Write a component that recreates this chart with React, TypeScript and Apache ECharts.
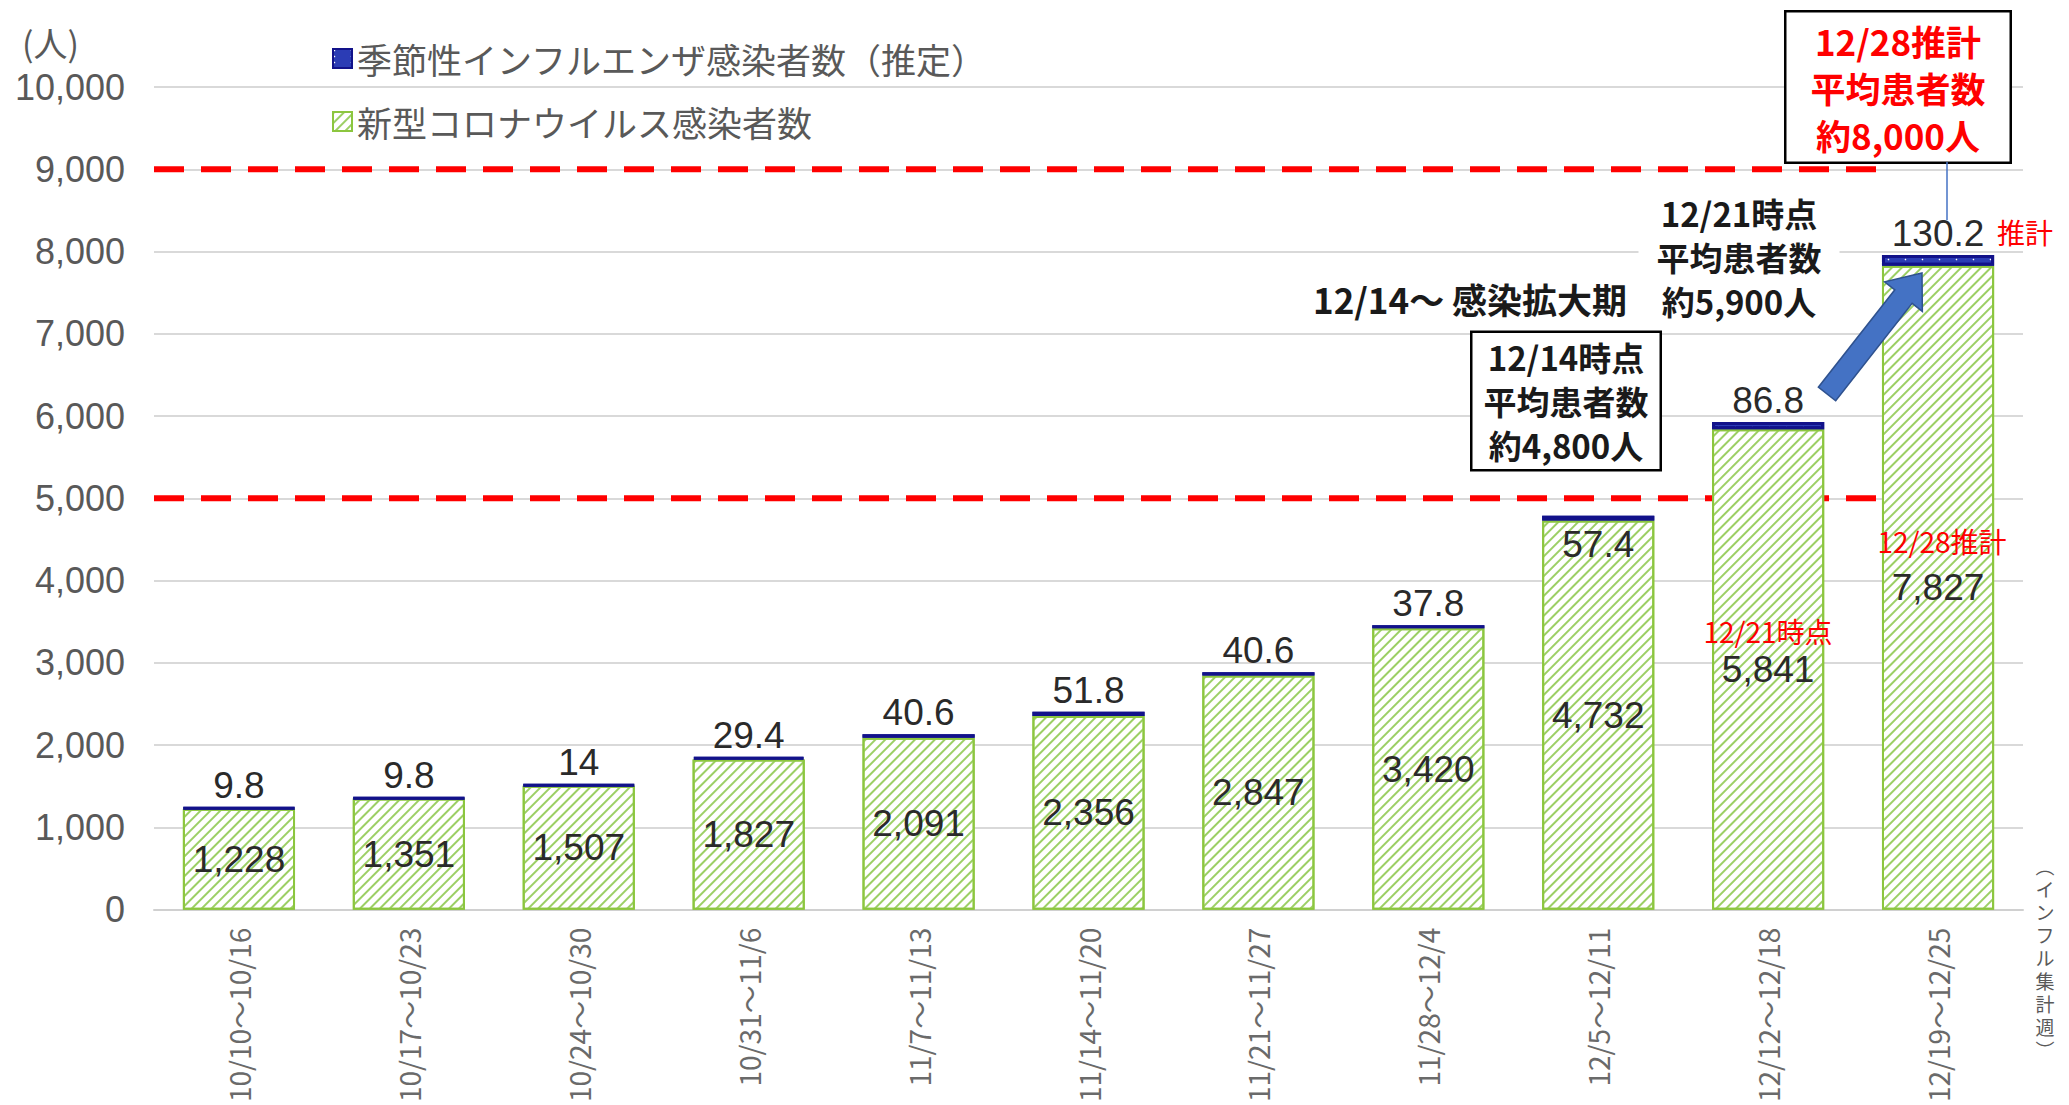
import React, { useEffect, useRef } from 'react';
import * as echarts from 'echarts';

const CATEGORIES = [
  '10/10～10/16', '10/17～10/23', '10/24～10/30', '10/31～11/6', '11/7～11/13',
  '11/14～11/20', '11/21～11/27', '11/28～12/4', '12/5～12/11', '12/12～12/18', '12/19～12/25',
];
const COVID = [1228, 1351, 1507, 1827, 2091, 2356, 2847, 3420, 4732, 5841, 7827];
const FLU = [9.8, 9.8, 14, 29.4, 40.6, 51.8, 40.6, 37.8, 57.4, 86.8, 130.2];
const Y_MIN = 0;
const Y_MAX = 10000;
const Y_INTERVAL = 1000;
const THRESHOLDS = [9000, 5000];
const FLU_NAME = '季節性インフルエンザ感染者数（推定）';
const COVID_NAME = '新型コロナウイルス感染者数';
const SIDE_NOTE = ['︵', 'イ', 'ン', 'フ', 'ル', '集', '計', '週', '︶'];
const FLU_LABEL_INSIDE_INDEX = 8;
const BAR_FRACTION = 0.66;

const JP = '"Noto Sans CJK JP", "Noto Sans", sans-serif';
const NUM = '"Liberation Sans", Arial, sans-serif';

function arrowPoints(tail: number[], tip: number[], shaftHalf: number, headHalf: number, headLen: number) {
  const dx = tip[0] - tail[0];
  const dy = tip[1] - tail[1];
  const len = Math.hypot(dx, dy);
  const ux = dx / len, uy = dy / len;
  const nx = -uy, ny = ux;
  const bx = tip[0] - ux * headLen, by = tip[1] - uy * headLen;
  return [
    [tail[0] + nx * shaftHalf, tail[1] + ny * shaftHalf],
    [bx + nx * shaftHalf, by + ny * shaftHalf],
    [bx + nx * headHalf, by + ny * headHalf],
    [tip[0], tip[1]],
    [bx - nx * headHalf, by - ny * headHalf],
    [bx - nx * shaftHalf, by - ny * shaftHalf],
    [tail[0] - nx * shaftHalf, tail[1] - ny * shaftHalf],
  ];
}

export default function App() {
  const ref = useRef<HTMLDivElement>(null);
  useEffect(() => {
    document.body.style.margin = '0';
    const chart = echarts.init(ref.current!, null, { renderer: 'svg' });
    const lineEnd = CATEGORIES.length - 1 + (1 - BAR_FRACTION) / 2 - 0.03;
    const fluData = FLU.map((v, i) =>
      i === FLU_LABEL_INSIDE_INDEX ? { value: v, label: { position: 'bottom', distance: 6 } } : v
    );
    const thresholdSeries = THRESHOLDS.map((t) => ({
      type: 'line',
      xAxisIndex: 1,
      yAxisIndex: 0,
      silent: true,
      symbol: 'none',
      data: [[0, t], [lineEnd, t]],
      lineStyle: { color: '#FF0000', width: 6, type: [30, 17] },
      z: 1,
    }));
    const sideStep = 23;
    const sideTop = 957 - ((SIDE_NOTE.length - 1) * sideStep) / 2;
    const sideTexts = SIDE_NOTE.map((ch, i) => ({
      type: 'text',
      z: 100,
      x: 2045,
      y: sideTop + i * sideStep,
      style: {
        text: ch,
        font: `19px ${JP}`,
        fill: '#595959',
        align: 'center',
        verticalAlign: 'middle',
        lineHeight: 20,
      },
    }));
    const option: any = {
      animation: false,
      backgroundColor: '#ffffff',
      grid: { left: 154, right: 46, top: 87, bottom: 193, containLabel: false },
      legend: {
        orient: 'vertical',
        left: 327,
        top: 36,
        icon: 'rect',
        itemWidth: 19,
        itemHeight: 19,
        itemGap: 28,
        data: [FLU_NAME, COVID_NAME],
        textStyle: { fontSize: 35, color: '#595959', fontFamily: JP },
      },
      xAxis: [
        {
          type: 'category',
          data: CATEGORIES,
          axisTick: { show: false },
          axisLine: { lineStyle: { color: '#D0D0D0', width: 2 } },
          axisLabel: { rotate: 90, margin: 18, fontSize: 28, color: '#6a6a6a', fontFamily: JP, interval: 0 },
        },
        { type: 'value', min: 0, max: CATEGORIES.length, show: false },
      ],
      yAxis: {
        type: 'value',
        min: Y_MIN,
        max: Y_MAX,
        interval: Y_INTERVAL,
        name: '(人)',
        nameLocation: 'end',
        nameGap: 28,
        nameTextStyle: { fontSize: 34, color: '#595959', fontFamily: JP, align: 'right', padding: [0, 75, 0, 0] },
        axisLine: { show: false },
        axisTick: { show: false },
        axisLabel: { fontSize: 36, color: '#595959', fontFamily: NUM, margin: 29 },
        splitLine: { lineStyle: { color: '#D9D9D9', width: 2 } },
      },
      series: [
        ...thresholdSeries,
        {
          name: COVID_NAME,
          type: 'bar',
          stack: 'total',
          data: COVID,
          barWidth: Math.round(BAR_FRACTION * 100) + '%',
          itemStyle: {
            color: '#ffffff',
            borderColor: '#8CC63F',
            borderWidth: 2,
            decal: {
              symbol: 'rect',
              symbolSize: 1,
              dashArrayX: [1, 0],
              dashArrayY: [2, 5],
              rotation: -Math.PI / 4,
              color: '#9CCF65',
            },
          },
          label: {
            show: true,
            position: 'inside',
            fontSize: 37,
            color: '#2a2a2a',
            fontFamily: NUM,
            formatter: (p: any) => Number(p.value).toLocaleString('en-US'),
          },
          z: 3,
        },
        {
          name: FLU_NAME,
          type: 'bar',
          stack: 'total',
          data: fluData,
          itemStyle: {
            color: '#2B3CB5',
            borderColor: '#12128A',
            borderWidth: 3,
            decal: {
              symbol: 'circle',
              symbolSize: 0.5,
              dashArrayX: [3, 14],
              dashArrayY: [3, 3],
              color: '#ffffff',
            },
          },
          label: {
            show: true,
            position: 'top',
            distance: 3,
            fontSize: 37,
            color: '#2a2a2a',
            fontFamily: NUM,
            formatter: (p: any) => String(p.value),
          },
          z: 3,
        },
      ],
      graphic: [
        {
          type: 'text',
          z: 100,
          x: 1898,
          y: 87,
          style: {
            text: '12/28推計\n平均患者数\n約8,000人',
            font: `bold 35px ${JP}`,
            fill: '#FF0000',
            align: 'center',
            verticalAlign: 'middle',
            lineHeight: 47,
            backgroundColor: '#ffffff',
            borderColor: '#000000',
            borderWidth: 2.5,
            padding: [4, 24, 4, 24],
          },
        },
        {
          type: 'line',
          z: 100,
          shape: { x1: 1947, y1: 162, x2: 1947, y2: 220 },
          style: { stroke: '#4472C4', lineWidth: 1.5 },
        },
        {
          type: 'text',
          z: 100,
          x: 2025,
          y: 232,
          style: { text: '推計', font: `28px ${JP}`, fill: '#FF0000', align: 'center', verticalAlign: 'middle' },
        },
        {
          type: 'text',
          z: 100,
          x: 1739,
          y: 257,
          style: {
            text: '12/21時点\n平均患者数\n約5,900人',
            font: `bold 33px ${JP}`,
            fill: '#1a1a1a',
            align: 'center',
            verticalAlign: 'middle',
            lineHeight: 44,
            backgroundColor: '#ffffff',
            padding: [0, 18, 0, 18],
          },
        },
        {
          type: 'text',
          z: 100,
          x: 1313,
          y: 298,
          style: { text: '12/14～ 感染拡大期', font: `bold 35px ${JP}`, fill: '#1a1a1a', align: 'left', verticalAlign: 'middle' },
        },
        {
          type: 'text',
          z: 100,
          x: 1566,
          y: 401,
          style: {
            text: '12/14時点\n平均患者数\n約4,800人',
            font: `bold 33px ${JP}`,
            fill: '#1a1a1a',
            align: 'center',
            verticalAlign: 'middle',
            lineHeight: 44,
            backgroundColor: '#ffffff',
            borderColor: '#000000',
            borderWidth: 2.5,
            padding: [2, 11, 2, 11],
          },
        },
        {
          type: 'polygon',
          z: 100,
          shape: { points: arrowPoints([1827, 394], [1922, 273], 11, 24, 30) },
          style: { fill: '#4472C4', stroke: '#2F528F', lineWidth: 1.5 },
        },
        {
          type: 'text',
          z: 100,
          x: 1768,
          y: 631,
          style: { text: '12/21時点', font: `28px ${JP}`, fill: '#FF0000', align: 'center', verticalAlign: 'middle' },
        },
        {
          type: 'text',
          z: 100,
          x: 1942,
          y: 541,
          style: { text: '12/28推計', font: `28px ${JP}`, fill: '#FF0000', align: 'center', verticalAlign: 'middle' },
        },
        ...sideTexts,
      ],
    };
    chart.setOption(option);
    return () => chart.dispose();
  }, []);
  return <div ref={ref} style={{ width: 2069, height: 1105 }} />;
}
